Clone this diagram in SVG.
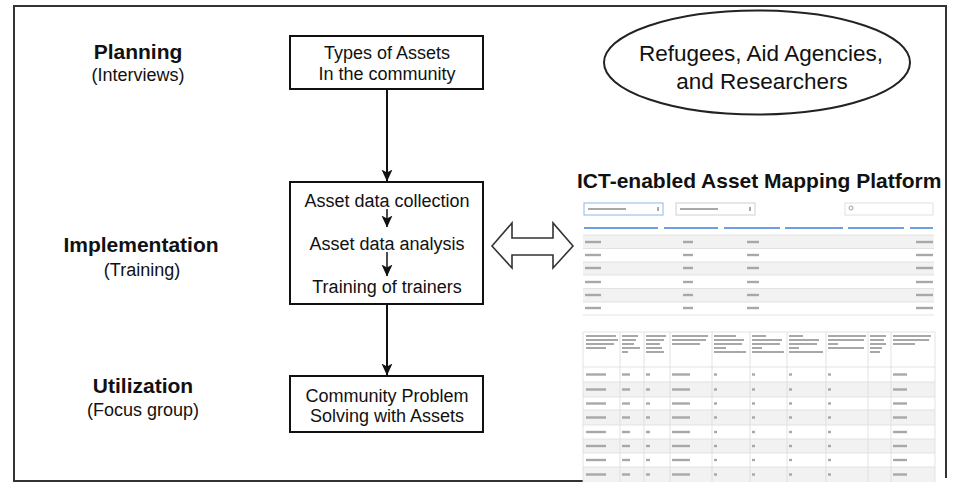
<svg xmlns="http://www.w3.org/2000/svg" xmlns:xlink="http://www.w3.org/1999/xlink" width="955" height="482" viewBox="0 0 955 482">
  <style>
    .lbl { font-family: "Liberation Sans", Arial, sans-serif; fill: #111; text-anchor: middle; }
    .phase { font-size: 21px; font-weight: bold; }
    .method { font-size: 18px; }
    .boxtxt { font-size: 18px; }
    .box { fill: #fff; stroke: #111; stroke-width: 2; }
    .conn { stroke: #111; stroke-width: 2; fill: none; }
    .sub { stroke: #111; stroke-width: 1.5; fill: none; }
    .grid { stroke: #dcdcdc; stroke-width: 0.8; fill: none; }
    .t { fill: #a8a8a8; }
    .tb { fill: #6f9fe0; }
    .shade { fill: #f2f2f2; }
  </style>
  <defs>
    <marker id="arrow" viewBox="0 0 12 12" refX="11.5" refY="6" markerWidth="12" markerHeight="12" orient="auto" markerUnits="userSpaceOnUse">
      <path d="M0,0.5 L12,6 L0,11.5 L3,6 Z" fill="#111"/>
    </marker>
    <!-- one data row of the survey table (bars stand for the tiny cell text) -->
    <g id="brow">
      <rect class="t" x="586" y="-1.2" width="20" height="2.4"/>
      <rect class="t" x="622" y="-1.2" width="8" height="2.4"/>
      <rect class="t" x="646" y="-1.2" width="4" height="2.4"/>
      <rect class="t" x="672" y="-1.2" width="18" height="2.4"/>
      <rect class="t" x="714" y="-1.2" width="3" height="2.4"/>
      <rect class="t" x="752" y="-1.2" width="3" height="2.4"/>
      <rect class="t" x="789" y="-1.2" width="3" height="2.4"/>
      <rect class="t" x="828" y="-1.2" width="3" height="2.4"/>
      <rect class="t" x="893" y="-1.2" width="14" height="2.4"/>
    </g>
    <!-- one row of the asset list -->
    <g id="arow">
      <rect class="t" x="585" y="-1.2" width="16" height="2.4"/>
      <rect class="t" x="683" y="-1.2" width="10" height="2.4"/>
      <rect class="t" x="747" y="-1.2" width="12" height="2.4"/>
      <rect class="t" x="916" y="-1.2" width="17" height="2.4"/>
    </g>
  </defs>

  <!-- outer frame -->
  <path d="M585,481 L14,481 L14,6 L946,6 L946,478" fill="none" stroke="#333" stroke-width="2"/>

  <!-- phase labels -->
  <g id="phase-planning">
    <text class="lbl phase" x="138" y="59">Planning</text>
    <text class="lbl method" x="138" y="81">(Interviews)</text>
  </g>
  <g id="phase-implementation">
    <text class="lbl phase" x="141" y="252">Implementation</text>
    <text class="lbl method" x="142" y="276">(Training)</text>
  </g>
  <g id="phase-utilization">
    <text class="lbl phase" x="143" y="393">Utilization</text>
    <text class="lbl method" x="143" y="416">(Focus group)</text>
  </g>

  <!-- process boxes -->
  <g id="node-types">
    <rect class="box" x="290" y="36" width="193" height="53"/>
    <text class="lbl boxtxt" x="387" y="59">Types of Assets</text>
    <text class="lbl boxtxt" x="387" y="80">In the community</text>
  </g>
  <g id="node-implementation">
    <rect class="box" x="290" y="182" width="193" height="122"/>
    <text class="lbl boxtxt" x="387" y="207">Asset data collection</text>
    <text class="lbl boxtxt" x="387" y="250">Asset data analysis</text>
    <text class="lbl boxtxt" x="387" y="293">Training of trainers</text>
  </g>
  <g id="node-solving">
    <rect class="box" x="290" y="376" width="193" height="56"/>
    <text class="lbl boxtxt" x="387" y="402">Community Problem</text>
    <text class="lbl boxtxt" x="387" y="422">Solving with Assets</text>
  </g>

  <!-- stakeholders -->
  <g id="node-stakeholders">
    <ellipse cx="757" cy="62.5" rx="153" ry="52" fill="#fff" stroke="#222" stroke-width="2"/>
    <text class="lbl" x="761" y="61" font-size="22.5">Refugees, Aid Agencies,</text>
    <text class="lbl" x="762" y="89" font-size="22.5">and Researchers</text>
  </g>

  <!-- connectors -->
  <g id="connectors">
    <line class="conn" x1="387" y1="89" x2="387" y2="181" marker-end="url(#arrow)"/>
    <line class="sub" x1="387" y1="209" x2="387" y2="227" marker-end="url(#arrow)"/>
    <line class="sub" x1="387" y1="252" x2="387" y2="276" marker-end="url(#arrow)"/>
    <line class="conn" x1="387" y1="304" x2="387" y2="375" marker-end="url(#arrow)"/>
    <path d="M492,246 L512,223 L512,238 L553,238 L553,223 L573,246 L553,268 L553,255 L512,255 L512,268 Z" fill="#fff" stroke="#333" stroke-width="1.6" stroke-linejoin="miter"/>
  </g>

  <!-- platform -->
  <g id="node-platform">
    <text x="577" y="188" font-family="Liberation Sans, Arial, sans-serif" font-size="21" font-weight="bold" fill="#111">ICT-enabled Asset Mapping Platform</text>

    <!-- filter controls -->
    <rect x="584" y="203" width="79" height="12" fill="#fff" stroke="#8fb5e8" stroke-width="1"/>
    <rect class="t" x="588" y="208" width="38" height="2"/>
    <rect class="t" x="657" y="207" width="2" height="4"/>
    <rect x="676" y="203" width="79" height="12" fill="#fff" stroke="#d0d0d0" stroke-width="1"/>
    <rect class="t" x="680" y="208" width="38" height="2"/>
    <rect class="t" x="749" y="207" width="2" height="4"/>
    <rect x="845" y="203" width="88" height="12" fill="#fff" stroke="#e0e0e0" stroke-width="1"/>
    <circle cx="851" cy="208" r="2" fill="none" stroke="#888" stroke-width="0.8"/>

    <!-- asset list -->
    <rect class="tb" x="584" y="227" width="74" height="2"/>
    <rect class="tb" x="664" y="227" width="54" height="2"/>
    <rect class="tb" x="724" y="227" width="56" height="2"/>
    <rect class="tb" x="785" y="227" width="58" height="2"/>
    <rect class="tb" x="848" y="227" width="56" height="2"/>
    <rect class="tb" x="910" y="227" width="23" height="2"/>
    <rect class="shade" x="583" y="235" width="351" height="13.5"/>
    <rect class="shade" x="583" y="262" width="351" height="13"/>
    <rect class="shade" x="583" y="288.5" width="351" height="13.5"/>
    <path class="grid" d="M583,235 H934 M583,248.5 H934 M583,262 H934 M583,275 H934 M583,288.5 H934 M583,302 H934 M583,315 H934"/>
    <use xlink:href="#arow" y="242"/>
    <use xlink:href="#arow" y="255"/>
    <use xlink:href="#arow" y="268"/>
    <use xlink:href="#arow" y="282"/>
    <use xlink:href="#arow" y="295"/>
    <use xlink:href="#arow" y="308"/>

    <!-- survey table -->
    <rect x="583" y="331" width="352" height="151" fill="#fff"/>
    <rect class="shade" x="583" y="382" width="352" height="15"/>
    <rect class="shade" x="583" y="410" width="352" height="15"/>
    <rect class="shade" x="583" y="439" width="352" height="14"/>
    <rect class="shade" x="583" y="467" width="352" height="15"/>
    <path class="grid" d="M583,332 V482 M620,332 V482 M644,332 V482 M670,332 V482 M712,332 V482 M750,332 V482 M787,332 V482 M826,332 V482 M868,332 V482 M891,332 V482 M935,332 V482"/>
    <path class="grid" d="M583,332 H935 M583,367 H935 M583,382 H935 M583,397 H935 M583,410 H935 M583,425 H935 M583,439 H935 M583,453 H935 M583,467 H935"/>
    <!-- header cells -->
    <g class="t">
      <rect x="586" y="335" width="30" height="2"/><rect x="586" y="339" width="32" height="2"/><rect x="586" y="343" width="28" height="2"/><rect x="586" y="347" width="20" height="2"/>
      <rect x="622" y="335" width="16" height="2"/><rect x="622" y="339" width="14" height="2"/><rect x="622" y="343" width="12" height="2"/><rect x="622" y="347" width="18" height="2"/><rect x="622" y="351" width="6" height="2"/>
      <rect x="646" y="335" width="20" height="2"/><rect x="646" y="339" width="18" height="2"/><rect x="646" y="343" width="14" height="2"/><rect x="646" y="347" width="16" height="2"/><rect x="646" y="351" width="18" height="2"/>
      <rect x="672" y="335" width="36" height="2"/><rect x="672" y="339" width="34" height="2"/><rect x="672" y="343" width="28" height="2"/>
      <rect x="714" y="335" width="22" height="2"/><rect x="714" y="339" width="30" height="2"/><rect x="714" y="343" width="28" height="2"/><rect x="714" y="347" width="12" height="2"/><rect x="714" y="351" width="32" height="2"/>
      <rect x="752" y="335" width="14" height="2"/><rect x="752" y="339" width="30" height="2"/><rect x="752" y="343" width="28" height="2"/><rect x="752" y="347" width="10" height="2"/><rect x="752" y="351" width="32" height="2"/>
      <rect x="789" y="335" width="14" height="2"/><rect x="789" y="339" width="30" height="2"/><rect x="789" y="343" width="28" height="2"/><rect x="789" y="347" width="10" height="2"/><rect x="789" y="351" width="34" height="2"/>
      <rect x="828" y="335" width="38" height="2"/><rect x="828" y="339" width="36" height="2"/><rect x="828" y="343" width="10" height="2"/><rect x="828" y="347" width="36" height="2"/>
      <rect x="870" y="335" width="16" height="2"/><rect x="870" y="339" width="14" height="2"/><rect x="870" y="343" width="16" height="2"/><rect x="870" y="347" width="12" height="2"/><rect x="870" y="351" width="10" height="2"/>
      <rect x="893" y="335" width="38" height="2"/><rect x="893" y="339" width="36" height="2"/><rect x="893" y="343" width="22" height="2"/>
    </g>
    <use xlink:href="#brow" y="374.5"/>
    <use xlink:href="#brow" y="389.5"/>
    <use xlink:href="#brow" y="403.5"/>
    <use xlink:href="#brow" y="417.5"/>
    <use xlink:href="#brow" y="432"/>
    <use xlink:href="#brow" y="446"/>
    <use xlink:href="#brow" y="460"/>
    <use xlink:href="#brow" y="474.5"/>
  </g>
</svg>
